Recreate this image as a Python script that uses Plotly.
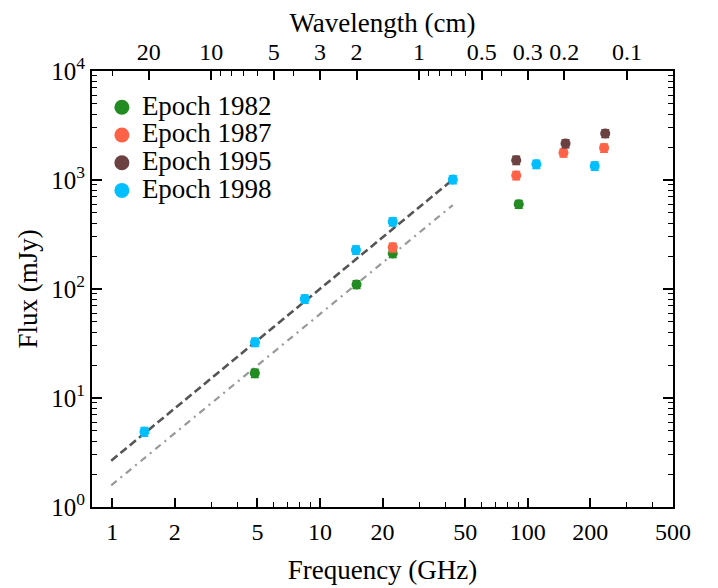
import plotly.graph_objects as go
import math

# ---- data ----
freq_1982 = [4.86, 15.0, 22.4, 90.5]
flux_1982 = [16.9, 110.0, 212.0, 600.0]
err_1982 = [1.5, 9.0, 17.0, 50.0]

freq_1987 = [22.4, 88.0, 148.6, 233.0]
flux_1987 = [241.0, 1100.0, 1775.0, 1970.0]
err_1987 = [22.0, 95.0, 150.0, 170.0]

freq_1995 = [88.0, 152.0, 236.0]
flux_1995 = [1520.0, 2160.0, 2670.0]
err_1995 = [130.0, 180.0, 220.0]

freq_1998 = [1.43, 4.87, 8.45, 14.9, 22.4, 43.6, 110.0, 210.0]
flux_1998 = [4.9, 32.5, 81.0, 228.0, 414.0, 1010.0, 1397.0, 1345.0]
err_1998 = [0.45, 2.8, 7.0, 20.0, 36.0, 85.0, 120.0, 115.0]

fit_freq = [0.99, 43.6]
fit_flux_upper = [2.66, 1010.0]
fit_flux_lower = [1.58, 589.0]

bottom_ticks = [1, 2, 5, 10, 20, 50, 100, 200, 500]
bottom_minor = [3, 4, 6, 7, 8, 9, 30, 40, 60, 70, 80, 90, 300, 400]
wavelength_labels = [20, 10, 5, 3, 2, 1, 0.5, 0.3, 0.2, 0.1]
wavelength_minor = [30, 9, 8, 7, 6, 4, 0.9, 0.8, 0.7, 0.6, 0.4]
y_ticks = [1, 10, 100, 1000, 10000]
y_ticklabels = ["10<sup>0</sup>", "10<sup>1</sup>", "10<sup>2</sup>", "10<sup>3</sup>", "10<sup>4</sup>"]

series = [
    ("Epoch 1982", freq_1982, flux_1982, err_1982, "#228B22"),
    ("Epoch 1987", freq_1987, flux_1987, err_1987, "#FF6347"),
    ("Epoch 1995", freq_1995, flux_1995, err_1995, "#6B4141"),
    ("Epoch 1998", freq_1998, flux_1998, err_1998, "#00BFFF"),
]

FONT = "Liberation Serif"
C = 30.0  # cm*GHz

fig = go.Figure()

fig.add_trace(go.Scatter(x=fit_freq, y=fit_flux_upper, mode="lines",
                         line=dict(color="#555555", width=2.6, dash="8px,4px"),
                         showlegend=False, hoverinfo="skip"))
fig.add_trace(go.Scatter(x=fit_freq, y=fit_flux_lower, mode="lines",
                         line=dict(color="#999999", width=2.2, dash="7px,5px,2px,5px"),
                         showlegend=False, hoverinfo="skip"))

for name, fx, fy, fe, col in series:
    fig.add_trace(go.Scatter(
        x=fx, y=fy, mode="markers", name=name, showlegend=False,
        marker=dict(color=col, size=10),
        error_y=dict(type="data", array=fe, color=col, thickness=1.5, width=4),
    ))
for name, fx, fy, fe, col in series:
    fig.add_trace(go.Scatter(x=[None], y=[None], mode="markers",
                             name='<span style="font-size:27px">%s</span>' % name,
                             marker=dict(color=col, size=15), showlegend=True))

# invisible trace to activate top axis
fig.add_trace(go.Scatter(x=[1, 500], y=[1, 1], xaxis="x2", mode="markers",
                         marker=dict(opacity=0), showlegend=False, hoverinfo="skip"))

top_vals = [C / w for w in wavelength_labels]
top_text = [("%g" % w) for w in wavelength_labels]
top_minor = [C / w for w in wavelength_minor]

xr = [math.log10(0.8), math.log10(500)]
tickf = dict(family=FONT, size=24, color="black")
titlef = dict(family=FONT, size=27, color="black")

fig.update_layout(
    width=710, height=580,
    margin=dict(l=84, r=45, t=63, b=81, autoexpand=False),
    paper_bgcolor="white", plot_bgcolor="white",
    font=dict(family=FONT, size=22, color="black"),
    showlegend=True,
    legend=dict(x=0.017, y=0.96, xanchor="left", yanchor="top",
                bgcolor="rgba(0,0,0,0)", font=dict(family=FONT, size=19, color="black"),
                tracegroupgap=0, itemsizing="trace"),
    xaxis=dict(type="log", range=xr, showline=True, linecolor="black", linewidth=1.8,
               mirror=False, ticks="inside", ticklen=9, tickwidth=1.5, tickcolor="black",
               tickmode="array", tickvals=bottom_ticks, ticktext=[str(v) for v in bottom_ticks],
               minor=dict(ticks="inside", ticklen=5, tickwidth=1.3, tickcolor="black",
                          tickmode="array", tickvals=bottom_minor, showgrid=False),
               showgrid=False, zeroline=False, ticklabelstandoff=2, automargin=False,
               tickfont=tickf,
               title=dict(text="Frequency (GHz)", font=titlef, standoff=16)),
    xaxis2=dict(type="log", range=xr, overlaying="x", side="top", showline=True,
                linecolor="black", linewidth=1.8, ticks="inside", ticklen=9, tickwidth=1.5,
                tickcolor="black", tickmode="array", tickvals=top_vals, ticktext=top_text,
                minor=dict(ticks="inside", ticklen=5, tickwidth=1.3, tickcolor="black",
                           tickmode="array", tickvals=top_minor, showgrid=False),
                showgrid=False, zeroline=False, automargin=False, tickfont=tickf,
                title=dict(text="Wavelength (cm)", font=titlef, standoff=22)),
    yaxis=dict(type="log", range=[0, 4], showline=True, linecolor="black", linewidth=1.8,
               mirror="ticks", ticks="inside", ticklen=10, tickwidth=1.5, tickcolor="black",
               tickmode="array", tickvals=y_ticks, ticktext=y_ticklabels,
               minor=dict(ticks="inside", ticklen=5, tickwidth=1.3, tickcolor="black",
                          showgrid=False, dtick="D1"),
               showgrid=False, zeroline=False, automargin=False,
               tickfont=dict(family=FONT, size=25, color="black"),
               title=dict(text="Flux (mJy)", font=titlef, standoff=6)),
)

fig.write_html("out.html")
